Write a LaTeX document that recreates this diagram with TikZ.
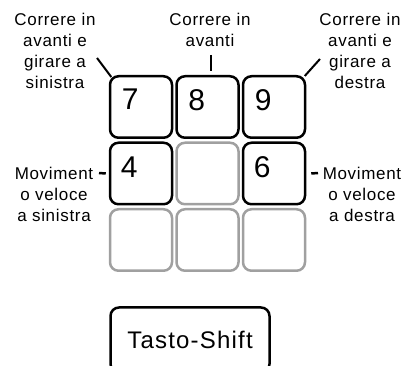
\documentclass[tikz,border=0pt]{standalone}
\usepackage{fontspec}
\setmainfont{Liberation Sans}
\newfontfamily\lblfont[LetterSpace=4]{Liberation Sans}
\newfontfamily\shiftfont[LetterSpace=5]{Liberation Sans}
\usetikzlibrary{calc}
\definecolor{keygray}{HTML}{A0A0A0}
\tikzset{
  keybox/.style={draw=black, line width=2.5pt, rounded corners=8.5pt, minimum width=62pt, minimum height=61.5pt, inner sep=0pt},
  graykey/.style={keybox, draw=keygray},
  digit/.style={font=\fontsize{30}{30}\selectfont, inner sep=0pt, anchor=north west},
  lbl/.style={font=\lblfont\fontsize{17}{21}\selectfont, align=center, inner sep=0pt, anchor=north},
  leader/.style={line width=2pt},
  dashlead/.style={line width=2.5pt},
  shiftbox/.style={draw=black, line width=2.5pt, rounded corners=8.5pt, minimum width=159pt, minimum height=65pt, inner sep=0pt, font=\shiftfont\fontsize{24}{24}\selectfont}
}
\begin{document}
\begin{tikzpicture}[x=1pt,y=-1pt]
\useasboundingbox (0,0) rectangle (405,366);
\clip (0,0) rectangle (405,366);
% keys
\node[keybox] (k7) at (141,107) {};
\node[keybox] (k8) at (207.5,107) {};
\node[keybox] (k9) at (274,107) {};
\node[keybox] (k4) at (141,173.5) {};
\node[graykey] (k5) at (207.5,173.5) {};
\node[keybox] (k6) at (274,173.5) {};
\node[graykey] (k1) at (141,240) {};
\node[graykey] (k2) at (207.5,240) {};
\node[graykey] (k3) at (274,240) {};
% digits
\node[digit] (d7) at ($(k7.north west)+(13,14)$) {7};
\node[digit] (d8) at ($(k8.north west)+(13,14)$) {8};
\node[digit] (d9) at ($(k9.north west)+(13,14)$) {9};
\node[digit] (d4) at ($(k4.north west)+(12,15)$) {4};
\node[digit] (d6) at ($(k6.north west)+(12,15)$) {6};
% labels
\node[lbl] (ltl) at (55,12.6) {Correre in\\avanti e\\girare a\\sinistra};
\node[lbl] (ltm) at (210,12.6) {Correre in\\avanti};
\node[lbl] (ltr) at (360,12.6) {Correre in\\avanti e\\girare a\\destra};
\node[lbl] (lml) at (54,166.6) {Moviment\\o veloce\\a sinistra};
\node[lbl] (lmr) at (362,166.6) {Moviment\\o veloce\\a destra};
% leaders
\coordinate (ctl) at (97,58);
\coordinate (ctm) at (211,55);
\coordinate (ctr) at (320,59);
\coordinate (cml) at (99,173);
\coordinate (cmr) at (318,173);
\draw[leader] (ctl) -- ($(k7.north west)+(2.5,2)$);
\draw[leader] (ctm) -- ($(k8.north)+(3.5,-4)$);
\draw[leader] (ctr) -- ($(k9.north east)+(-1.5,1)$);
\draw[dashlead] (cml) -- ($(k4.west)+(-3,0)$);
\draw[dashlead] (cmr) -- ($(k6.east)+(5,0)$);
% shift key
\node[shiftbox] (shift) at (190,340) {Tasto-Shift};
\end{tikzpicture}
\end{document}
